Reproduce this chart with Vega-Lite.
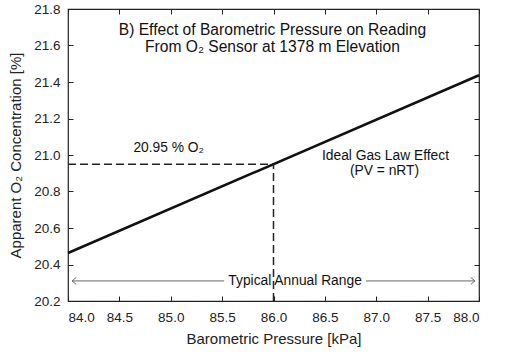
{
  "$schema": "https://vega.github.io/schema/vega-lite/v6.json",
  "width": 411,
  "height": 292,
  "autosize": {"type": "none"},
  "padding": {"left": 68, "top": 9, "right": 50, "bottom": 59},
  "background": "white",
  "config": {
    "font": "Liberation Sans",
    "view": {"stroke": "#222", "strokeWidth": 1.2},
    "axis": {
      "grid": false,
      "domain": false,
      "offset": -5,
      "tickColor": "#222",
      "tickSize": 5,
      "tickWidth": 1,
      "labelColor": "#222",
      "titleColor": "#222",
      "labelFontSize": 13.5,
      "titleFontSize": 15,
      "titleFontWeight": "normal",
      "labelFont": "Liberation Sans",
      "titleFont": "Liberation Sans"
    }
  },
  "datasets": {
    "line": [{"p": 84, "c": 20.463}, {"p": 88, "c": 21.437}],
    "dashed": [
      {"x": 84, "x2": 86, "y": 20.95, "y2": 20.95},
      {"x": 86, "x2": 86, "y": 20.2, "y2": 20.95}
    ],
    "arrow": [
      {"x": 84.04, "x2": 85.52, "y": 20.31},
      {"x": 86.9, "x2": 87.96, "y": 20.31}
    ],
    "heads": [
      {"x": 84.06, "y": 20.31, "dir": "left"},
      {"x": 87.94, "y": 20.31, "dir": "right"}
    ],
    "titles": [
      {"x": 85.99, "y": 21.685, "label": "B) Effect of Barometric Pressure on Reading"},
      {"x": 85.99, "y": 21.592, "label": "From O₂ Sensor at 1378 m Elevation"}
    ],
    "notes": [
      {"x": 84.98, "y": 21.04, "label": "20.95 % O₂"},
      {"x": 87.09, "y": 20.995, "label": "Ideal Gas Law Effect"},
      {"x": 87.08, "y": 20.91, "label": "(PV = nRT)"},
      {"x": 86.21, "y": 20.31, "label": "Typical Annual Range"}
    ]
  },
  "resolve": {"axis": {"x": "independent", "y": "independent"}},
  "layer": [
    {
      "data": {"name": "line"},
      "mark": {"type": "line", "color": "#111", "strokeWidth": 2.5},
      "encoding": {
        "x": {"field": "p", "type": "quantitative",
          "scale": {"domain": [84, 88], "nice": false, "zero": false},
          "axis": {"values": [84, 84.5, 85, 85.5, 86, 86.5, 87, 87.5, 88], "format": ".1f",
            "title": "Barometric Pressure [kPa]", "labelPadding": 9, "titlePadding": 8}},
        "y": {"field": "c", "type": "quantitative",
          "scale": {"domain": [20.2, 21.8], "nice": false, "zero": false},
          "axis": {"values": [20.2, 20.4, 20.6, 20.8, 21.0, 21.2, 21.4, 21.6, 21.8], "format": ".1f",
            "title": "Apparent O₂ Concentration [%]", "labelPadding": 8, "titlePadding": 10}}
      }
    },
    {
      "data": {"name": "line"},
      "mark": {"type": "line", "opacity": 0},
      "encoding": {
        "x": {"field": "p", "type": "quantitative",
          "axis": {"orient": "top", "values": [84, 84.5, 85, 85.5, 86, 86.5, 87, 87.5, 88], "labels": false, "title": null}},
        "y": {"field": "c", "type": "quantitative",
          "axis": {"orient": "right", "values": [20.2, 20.4, 20.6, 20.8, 21.0, 21.2, 21.4, 21.6, 21.8], "labels": false, "title": null}}
      }
    },
    {
      "data": {"name": "dashed"},
      "mark": {"type": "rule", "color": "#222", "strokeWidth": 1.5, "strokeDash": [8, 4]},
      "encoding": {
        "x": {"field": "x", "type": "quantitative", "axis": null},
        "x2": {"field": "x2"},
        "y": {"field": "y", "type": "quantitative", "axis": null},
        "y2": {"field": "y2"}
      }
    },
    {
      "data": {"name": "arrow"},
      "mark": {"type": "rule", "color": "#666", "strokeWidth": 1},
      "encoding": {
        "x": {"field": "x", "type": "quantitative", "axis": null},
        "x2": {"field": "x2"},
        "y": {"field": "y", "type": "quantitative", "axis": null}
      }
    },
    {
      "data": {"name": "heads"},
      "mark": {"type": "point", "filled": false, "color": "#666", "strokeWidth": 1, "size": 49, "opacity": 1},
      "encoding": {
        "x": {"field": "x", "type": "quantitative", "axis": null},
        "y": {"field": "y", "type": "quantitative", "axis": null},
        "shape": {"field": "dir", "type": "nominal", "legend": null,
          "scale": {"domain": ["left", "right"], "range": ["M0.6,-1L-0.6,0L0.6,1", "M-0.6,-1L0.6,0L-0.6,1"]}}
      }
    },
    {
      "data": {"name": "titles"},
      "mark": {"type": "text", "fontSize": 15.6, "color": "#111", "baseline": "middle", "align": "center", "font": "Liberation Sans"},
      "encoding": {
        "x": {"field": "x", "type": "quantitative", "axis": null},
        "y": {"field": "y", "type": "quantitative", "axis": null},
        "text": {"field": "label"}
      }
    },
    {
      "data": {"name": "notes"},
      "mark": {"type": "text", "fontSize": 13.8, "color": "#111", "baseline": "middle", "align": "center", "font": "Liberation Sans"},
      "encoding": {
        "x": {"field": "x", "type": "quantitative", "axis": null},
        "y": {"field": "y", "type": "quantitative", "axis": null},
        "text": {"field": "label"}
      }
    }
  ]
}
